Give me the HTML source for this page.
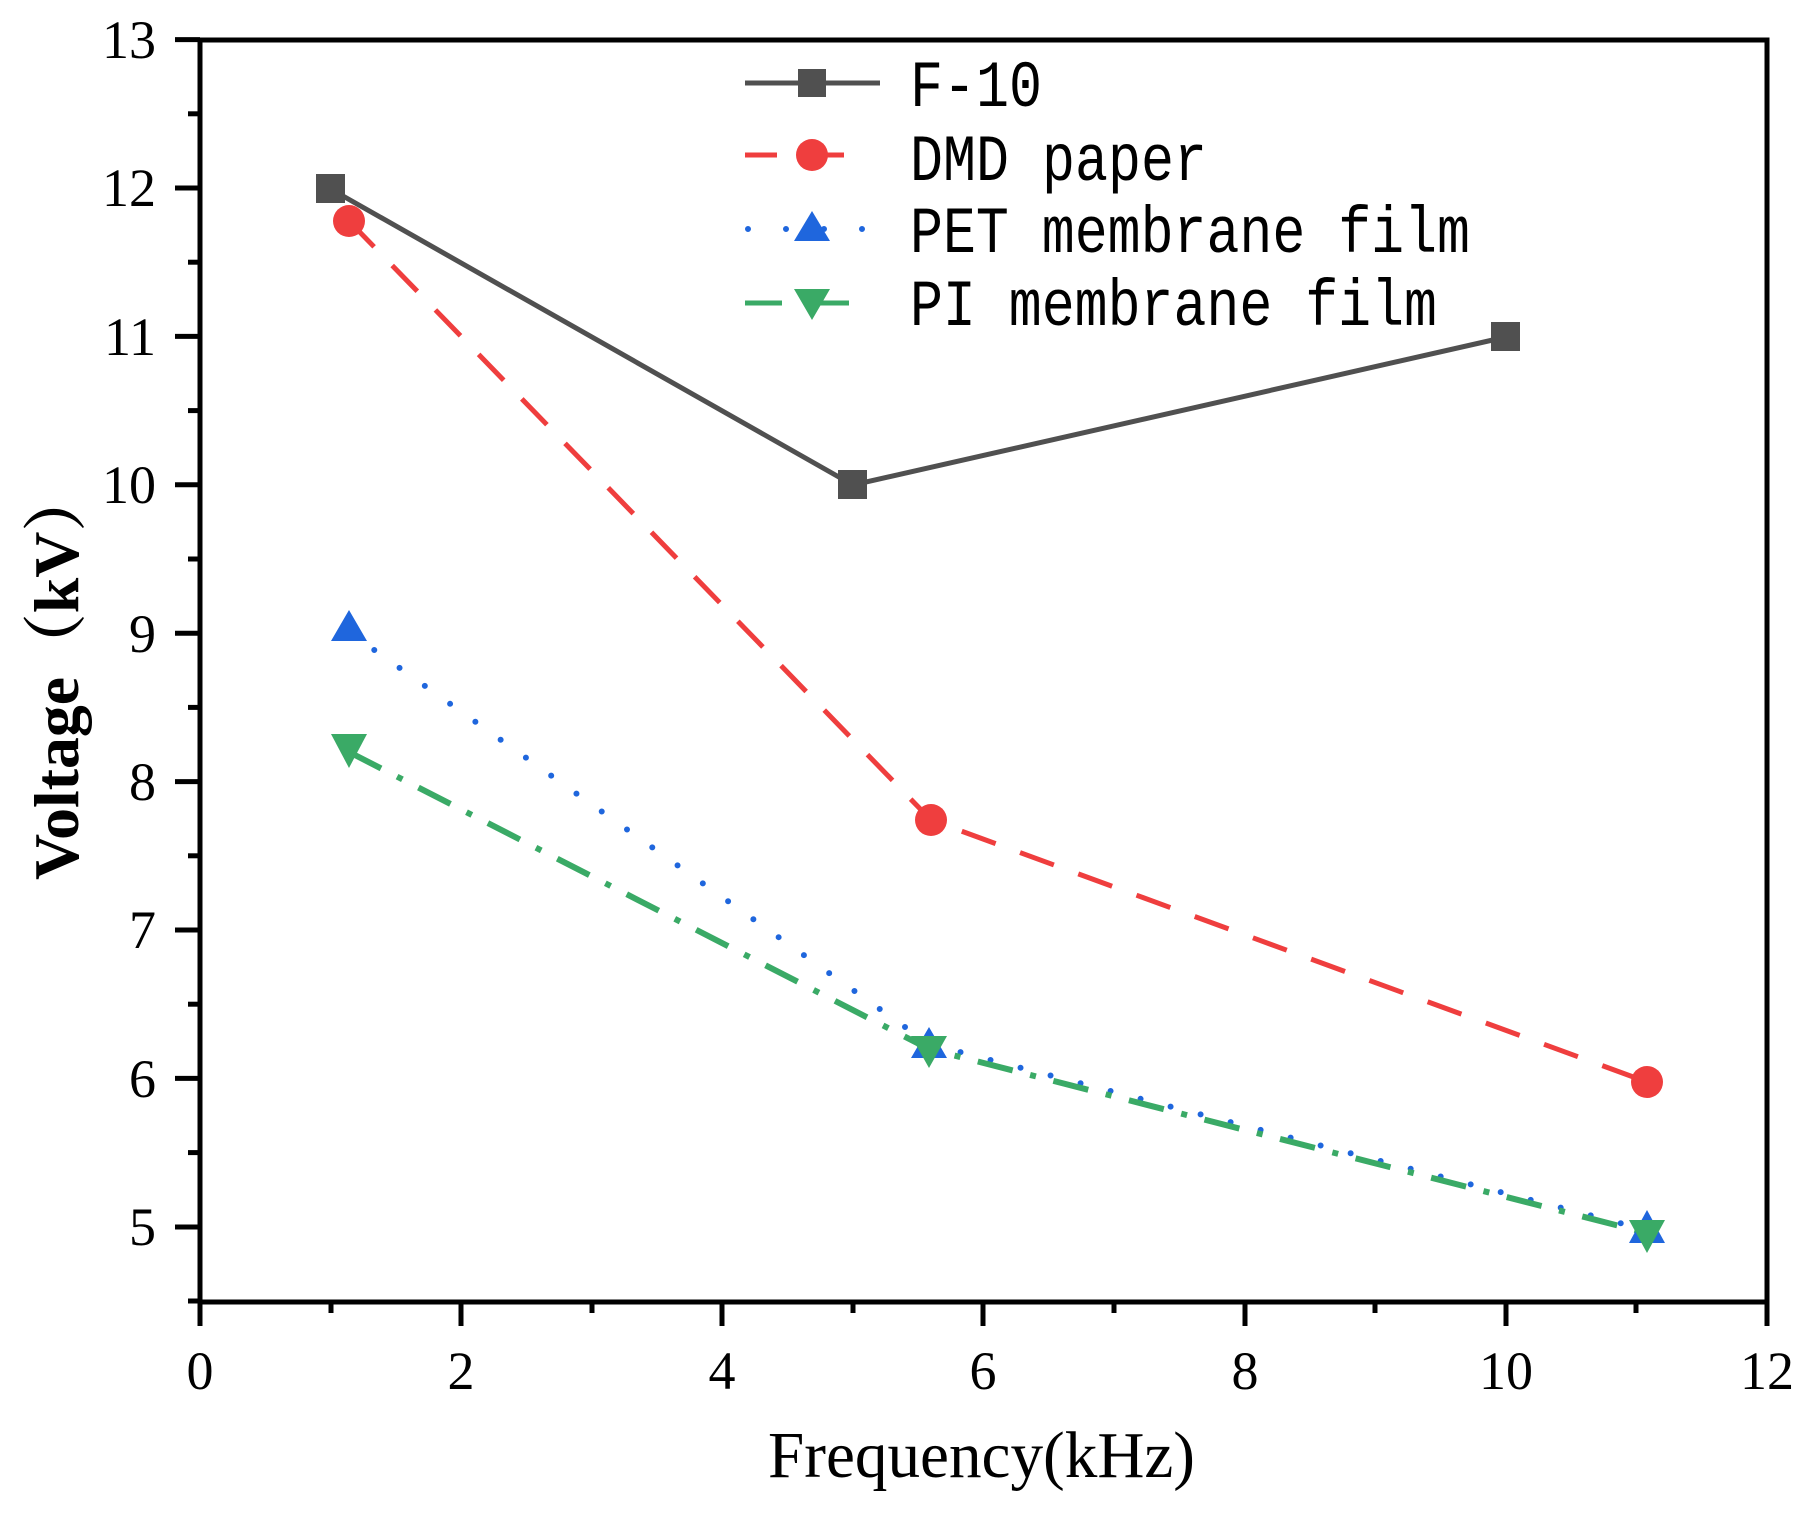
<!DOCTYPE html>
<html><head><meta charset="utf-8"><style>html,body{margin:0;padding:0;background:#fff}svg{display:block}</style></head>
<body>
<svg width="1806" height="1519" viewBox="0 0 1806 1519" xmlns="http://www.w3.org/2000/svg">
<g fill="none" stroke-linecap="butt">
<polyline points="330.6,189 853,485 1506,337" stroke="#505050" stroke-width="5"/>
<polyline points="349,221 931,820 1647,1082" stroke="#ef3e3e" stroke-width="5" stroke-dasharray="36,26"/>
<polyline points="349,632 929,1044 1647,1230" stroke="#1f66dd" stroke-width="6" stroke-dasharray="0,31" stroke-linecap="round"/>
<polyline points="349,752 929,1049 1647,1233" stroke="#3aaa66" stroke-width="6" stroke-dasharray="36,18,6,18"/>
</g>
<g fill="#505050"><rect x="316" y="174" width="29" height="29"/><rect x="838" y="470" width="29" height="29"/><rect x="1491" y="322" width="29" height="29"/></g>
<g fill="#ef3e3e"><circle cx="349" cy="221" r="16"/><circle cx="931" cy="820" r="16"/><circle cx="1647" cy="1082" r="16"/></g>
<g fill="#1f66dd"><polygon points="349,610 367,641 331,641"/><polygon points="929,1027 947,1058 911,1058"/><polygon points="1647,1210 1665,1243 1629,1243"/></g>
<g fill="#3aaa66"><polygon points="331,734 367,734 349,768"/><polygon points="911,1036 947,1036 929,1068"/><polygon points="1629,1220 1665,1220 1647,1253"/></g>
<g stroke="#000" stroke-width="5" fill="none">
<rect x="200" y="40" width="1567" height="1262"/>
<line x1="175" y1="39.6" x2="200" y2="39.6"/><line x1="175" y1="188" x2="200" y2="188"/><line x1="175" y1="336.4" x2="200" y2="336.4"/><line x1="175" y1="484.8" x2="200" y2="484.8"/><line x1="175" y1="633.2" x2="200" y2="633.2"/><line x1="175" y1="781.6" x2="200" y2="781.6"/><line x1="175" y1="930" x2="200" y2="930"/><line x1="175" y1="1078.4" x2="200" y2="1078.4"/><line x1="175" y1="1227" x2="200" y2="1227"/>
<line x1="188" y1="113.8" x2="200" y2="113.8"/><line x1="188" y1="262.2" x2="200" y2="262.2"/><line x1="188" y1="410.6" x2="200" y2="410.6"/><line x1="188" y1="559" x2="200" y2="559"/><line x1="188" y1="707.4" x2="200" y2="707.4"/><line x1="188" y1="855.8" x2="200" y2="855.8"/><line x1="188" y1="1004.2" x2="200" y2="1004.2"/><line x1="188" y1="1152.6" x2="200" y2="1152.6"/><line x1="188" y1="1301" x2="200" y2="1301"/>
<line x1="200" y1="1302" x2="200" y2="1326"/><line x1="461" y1="1302" x2="461" y2="1326"/><line x1="722" y1="1302" x2="722" y2="1326"/><line x1="983" y1="1302" x2="983" y2="1326"/><line x1="1245" y1="1302" x2="1245" y2="1326"/><line x1="1506" y1="1302" x2="1506" y2="1326"/><line x1="1767" y1="1302" x2="1767" y2="1326"/>
<line x1="331" y1="1302" x2="331" y2="1313"/><line x1="592" y1="1302" x2="592" y2="1313"/><line x1="853" y1="1302" x2="853" y2="1313"/><line x1="1114" y1="1302" x2="1114" y2="1313"/><line x1="1375" y1="1302" x2="1375" y2="1313"/><line x1="1636" y1="1302" x2="1636" y2="1313"/>
</g>
<g font-family="Liberation Serif, serif" font-size="54" fill="#000" text-anchor="end">
<text x="156" y="58">13</text><text x="156" y="206">12</text><text x="156" y="355">11</text><text x="156" y="503">10</text><text x="156" y="652">9</text><text x="156" y="800">8</text><text x="156" y="948">7</text><text x="156" y="1097">6</text><text x="156" y="1245">5</text>
</g>
<g font-family="Liberation Serif, serif" font-size="54" fill="#000" text-anchor="middle">
<text x="200" y="1389">0</text><text x="461" y="1389">2</text><text x="722" y="1389">4</text><text x="983" y="1389">6</text><text x="1245" y="1389">8</text><text x="1506" y="1389">10</text><text x="1767" y="1389">12</text>
</g>
<text x="768" y="1477" font-family="Liberation Serif, serif" font-size="66" textLength="427" lengthAdjust="spacingAndGlyphs">Frequency(kHz)</text>
<text transform="translate(78,880) rotate(-90)" font-family="Liberation Serif, 'Noto Serif CJK SC', serif" font-size="64" font-weight="bold" textLength="412" lengthAdjust="spacingAndGlyphs">Voltage（kV）</text>
<line x1="745" y1="83" x2="880" y2="83" stroke="#505050" stroke-width="5"/>
<rect x="798" y="69" width="28" height="28" fill="#505050"/>
<line x1="745" y1="155" x2="862" y2="155" stroke="#ef3e3e" stroke-width="5" stroke-dasharray="32,35"/>
<circle cx="812" cy="155" r="16" fill="#ef3e3e"/>
<line x1="748" y1="229" x2="880" y2="229" stroke="#1f66dd" stroke-width="6" stroke-dasharray="0,38" stroke-linecap="round"/>
<polygon points="812,211 830,241 794,241" fill="#1f66dd"/>
<line x1="745" y1="303" x2="868" y2="303" stroke="#3aaa66" stroke-width="5" stroke-dasharray="37,30"/>
<polygon points="794,289 830,289 812,320" fill="#3aaa66"/>
<g font-family="Liberation Mono, monospace" font-size="55" fill="#000">
<text transform="translate(910,106) scale(1,1.2)">F-10</text>
<text transform="translate(910,180) scale(1,1.2)">DMD paper</text>
<text transform="translate(910,252) scale(1,1.2)" textLength="560" lengthAdjust="spacingAndGlyphs">PET membrane film</text>
<text transform="translate(910,325) scale(1,1.2)" textLength="527" lengthAdjust="spacingAndGlyphs">PI membrane film</text>
</g>
</svg>
</body></html>
